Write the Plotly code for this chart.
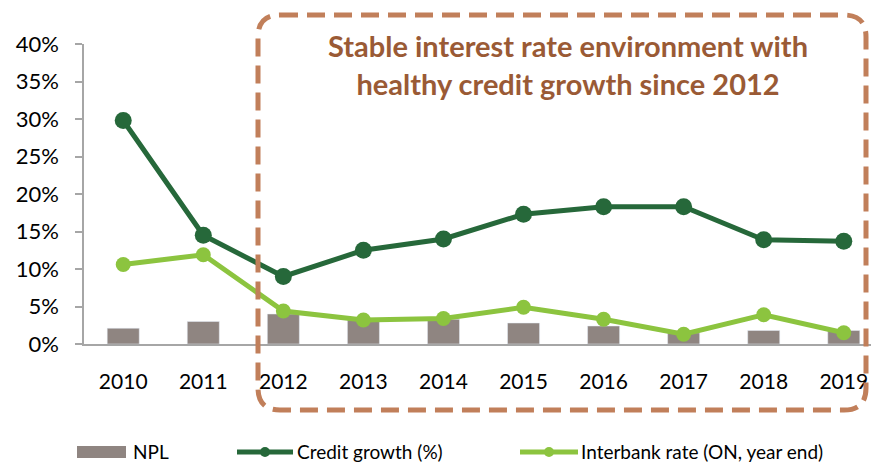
import plotly.graph_objects as go

years = ["2010", "2011", "2012", "2013", "2014", "2015", "2016", "2017", "2018", "2019"]
npl = [2.1, 3.0, 4.0, 3.2, 3.3, 2.8, 2.4, 1.5, 1.8, 1.8]
credit_growth = [29.8, 14.5, 9.0, 12.5, 14.0, 17.3, 18.3, 18.3, 13.9, 13.7]
interbank = [10.6, 11.9, 4.4, 3.2, 3.4, 4.9, 3.3, 1.3, 3.9, 1.5]
y_ticks = [0, 5, 10, 15, 20, 25, 30, 35, 40]
y_tick_labels = [f"{v}%" for v in y_ticks]
series_names = ["NPL", "Credit growth (%)", "Interbank rate (ON, year end)"]
box_title = "Stable interest rate environment with<br>healthy credit growth since 2012"

W, H = 871, 462
L, R, T, B = 84, 0, 44, 118
PW, PH = W - L - R, H - T - B

def px(x):
    return (x - L) / PW

def py(y):
    return (H - B - y) / PH

FONT = "Lato"
C_BAR = "#8F8581"
C_DARK = "#26683A"
C_LIGHT = "#8CC43F"
C_BOX = "#C17F5A"
C_TXT = "#9A5A35"

x_idx = list(range(len(years)))

fig = go.Figure()
fig.add_trace(go.Bar(x=x_idx, y=npl, name=series_names[0], marker_color=C_BAR,
                     width=0.4, showlegend=False))
fig.add_trace(go.Scatter(x=x_idx, y=credit_growth, name=series_names[1], mode="lines+markers",
                         line=dict(color=C_DARK, width=5), marker=dict(size=17, color=C_DARK),
                         showlegend=False))
fig.add_trace(go.Scatter(x=x_idx, y=interbank, name=series_names[2], mode="lines+markers",
                         line=dict(color=C_LIGHT, width=5), marker=dict(size=15, color=C_LIGHT),
                         showlegend=False))

# Rounded dashed box
x0, x1, y0, y1, r = 258, 866, 15, 410, 22
X0, X1 = px(x0), px(x1)
Y0, Y1 = py(y0), py(y1)
rx, ry = r / PW, r / PH
path = (f"M {X0+rx},{Y0} L {X1-rx},{Y0} Q {X1},{Y0} {X1},{Y0-ry} "
        f"L {X1},{Y1+ry} Q {X1},{Y1} {X1-rx},{Y1} "
        f"L {X0+rx},{Y1} Q {X0},{Y1} {X0},{Y1+ry} "
        f"L {X0},{Y0-ry} Q {X0},{Y0} {X0+rx},{Y0} Z")
shapes = [dict(type="path", xref="paper", yref="paper", path=path,
               line=dict(color=C_BOX, width=5, dash="18px,9px"), layer="above")]

# Custom legend
ly = 452
shapes.append(dict(type="rect", xref="paper", yref="paper", x0=px(77), x1=px(126),
                   y0=py(458), y1=py(446), fillcolor=C_BAR, line=dict(width=0)))
for (a, b, c) in [(237, 293, C_DARK), (520, 578, C_LIGHT)]:
    shapes.append(dict(type="line", xref="paper", yref="paper", x0=px(a), x1=px(b),
                       y0=py(ly), y1=py(ly), line=dict(color=c, width=5)))
    m = (a + b) / 2
    shapes.append(dict(type="circle", xref="paper", yref="paper", x0=px(m - 5), x1=px(m + 5),
                       y0=py(ly + 5), y1=py(ly - 5), fillcolor=c, line=dict(width=0)))

annotations = [dict(text=box_title, xref="paper", yref="paper", x=px(568), y=py(65),
                    showarrow=False, xanchor="center", yanchor="middle",
                    font=dict(family=FONT, size=29, color=C_TXT, weight="bold"))]
for name, xs in zip(series_names, [131, 295, 579]):
    annotations.append(dict(text=name, xref="paper", yref="paper", x=px(xs), y=py(ly - 1),
                            showarrow=False, xanchor="left", yanchor="middle",
                            font=dict(family=FONT, size=19, color="#000000")))

fig.update_layout(
    width=W, height=H, margin=dict(l=L, r=R, t=T, b=B),
    paper_bgcolor="white", plot_bgcolor="white",
    font=dict(family=FONT, size=20, color="#000000"),
    shapes=shapes, annotations=annotations, bargap=0.6,
)
fig.update_xaxes(range=[-0.49, 9.34], tickvals=x_idx, ticktext=years, showgrid=False,
                 showline=True, linecolor="#A6A6A6", linewidth=1.5, ticks="",
                 ticklabelstandoff=18, zeroline=False, tickfont=dict(size=21))
fig.update_yaxes(range=[0, 40], tickvals=y_ticks, ticktext=y_tick_labels, showgrid=False,
                 showline=True, linecolor="#A6A6A6", linewidth=1.5, ticks="outside",
                 ticklen=7, tickcolor="#A6A6A6", tickwidth=1.5, ticklabelstandoff=12,
                 zeroline=False, tickfont=dict(size=22))

fig.write_html("out.html", config={"displayModeBar": False},
               post_script="document.body.style.margin='0';document.body.style.overflow='hidden';")
